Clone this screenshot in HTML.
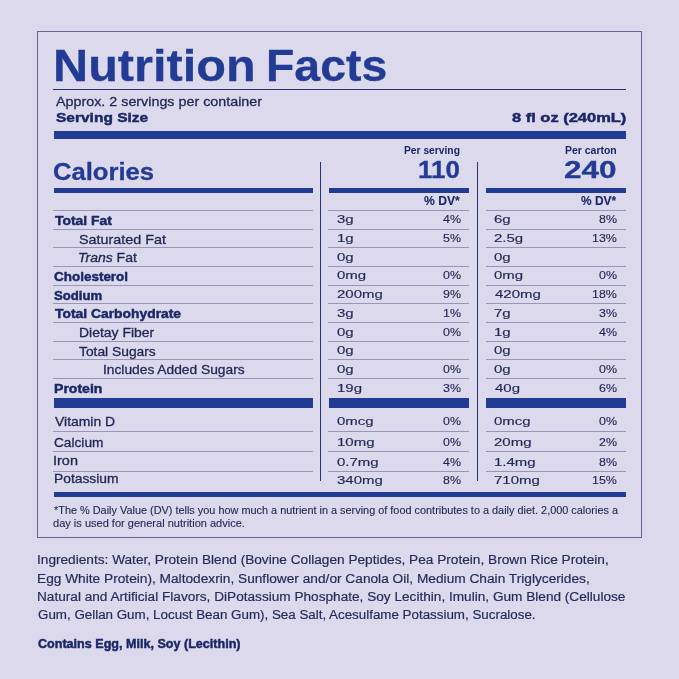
<!DOCTYPE html>
<html><head><meta charset="utf-8"><title>Nutrition Facts</title>
<style>
html,body{margin:0;padding:0}
body{width:679px;height:679px;background:#dcd9ec;position:relative;overflow:hidden;font-family:"Liberation Sans",sans-serif}
.t{position:absolute;white-space:pre;line-height:1;transform-origin:0 0;font-family:"Liberation Sans",sans-serif;-webkit-text-stroke:0.3px currentColor}
.b{-webkit-text-stroke-width:0.45px}
.r{position:absolute;box-sizing:content-box}
</style></head><body>
<div id="w" style="position:absolute;left:0;top:0;width:679px;height:679px;will-change:transform">
<div class="r" style="left:37px;top:31px;width:603px;height:505px;border:1px solid #646890"></div>
<div class="r" style="left:53.00px;top:89.00px;width:573.00px;height:1.00px;background:#2b3068"></div>
<div class="r" style="left:53.80px;top:131.00px;width:572.20px;height:8.00px;background:#223b94"></div>
<div class="r" style="left:53.80px;top:188.30px;width:259.20px;height:4.50px;background:#223b94"></div>
<div class="r" style="left:328.50px;top:188.30px;width:140.50px;height:4.50px;background:#223b94"></div>
<div class="r" style="left:486.00px;top:188.30px;width:140.00px;height:4.50px;background:#223b94"></div>
<div class="r" style="left:320.00px;top:162.00px;width:1.00px;height:318.50px;background:#2b3270"></div>
<div class="r" style="left:476.80px;top:162.00px;width:1.00px;height:318.50px;background:#2b3270"></div>
<div class="r" style="left:53.00px;top:210.00px;width:260.00px;height:1.00px;background:#9895b8"></div>
<div class="r" style="left:328.00px;top:210.00px;width:141.00px;height:1.00px;background:#9895b8"></div>
<div class="r" style="left:485.50px;top:210.00px;width:140.50px;height:1.00px;background:#9895b8"></div>
<div class="r" style="left:53.00px;top:228.65px;width:260.00px;height:1.00px;background:#9895b8"></div>
<div class="r" style="left:328.00px;top:228.65px;width:141.00px;height:1.00px;background:#9895b8"></div>
<div class="r" style="left:485.50px;top:228.65px;width:140.50px;height:1.00px;background:#9895b8"></div>
<div class="r" style="left:53.00px;top:247.30px;width:260.00px;height:1.00px;background:#9895b8"></div>
<div class="r" style="left:328.00px;top:247.30px;width:141.00px;height:1.00px;background:#9895b8"></div>
<div class="r" style="left:485.50px;top:247.30px;width:140.50px;height:1.00px;background:#9895b8"></div>
<div class="r" style="left:53.00px;top:265.95px;width:260.00px;height:1.00px;background:#9895b8"></div>
<div class="r" style="left:328.00px;top:265.95px;width:141.00px;height:1.00px;background:#9895b8"></div>
<div class="r" style="left:485.50px;top:265.95px;width:140.50px;height:1.00px;background:#9895b8"></div>
<div class="r" style="left:53.00px;top:284.60px;width:260.00px;height:1.00px;background:#9895b8"></div>
<div class="r" style="left:328.00px;top:284.60px;width:141.00px;height:1.00px;background:#9895b8"></div>
<div class="r" style="left:485.50px;top:284.60px;width:140.50px;height:1.00px;background:#9895b8"></div>
<div class="r" style="left:53.00px;top:303.25px;width:260.00px;height:1.00px;background:#9895b8"></div>
<div class="r" style="left:328.00px;top:303.25px;width:141.00px;height:1.00px;background:#9895b8"></div>
<div class="r" style="left:485.50px;top:303.25px;width:140.50px;height:1.00px;background:#9895b8"></div>
<div class="r" style="left:53.00px;top:321.90px;width:260.00px;height:1.00px;background:#9895b8"></div>
<div class="r" style="left:328.00px;top:321.90px;width:141.00px;height:1.00px;background:#9895b8"></div>
<div class="r" style="left:485.50px;top:321.90px;width:140.50px;height:1.00px;background:#9895b8"></div>
<div class="r" style="left:53.00px;top:340.55px;width:260.00px;height:1.00px;background:#9895b8"></div>
<div class="r" style="left:328.00px;top:340.55px;width:141.00px;height:1.00px;background:#9895b8"></div>
<div class="r" style="left:485.50px;top:340.55px;width:140.50px;height:1.00px;background:#9895b8"></div>
<div class="r" style="left:53.00px;top:359.20px;width:260.00px;height:1.00px;background:#9895b8"></div>
<div class="r" style="left:328.00px;top:359.20px;width:141.00px;height:1.00px;background:#9895b8"></div>
<div class="r" style="left:485.50px;top:359.20px;width:140.50px;height:1.00px;background:#9895b8"></div>
<div class="r" style="left:53.00px;top:377.85px;width:260.00px;height:1.00px;background:#9895b8"></div>
<div class="r" style="left:328.00px;top:377.85px;width:141.00px;height:1.00px;background:#9895b8"></div>
<div class="r" style="left:485.50px;top:377.85px;width:140.50px;height:1.00px;background:#9895b8"></div>
<div class="r" style="left:53.80px;top:398.20px;width:259.20px;height:9.80px;background:#223b94"></div>
<div class="r" style="left:328.50px;top:398.20px;width:140.50px;height:9.80px;background:#223b94"></div>
<div class="r" style="left:486.00px;top:398.20px;width:140.00px;height:9.80px;background:#223b94"></div>
<div class="r" style="left:53.00px;top:431.00px;width:260.00px;height:1.00px;background:#9895b8"></div>
<div class="r" style="left:328.00px;top:431.00px;width:141.00px;height:1.00px;background:#9895b8"></div>
<div class="r" style="left:485.50px;top:431.00px;width:140.50px;height:1.00px;background:#9895b8"></div>
<div class="r" style="left:53.00px;top:451.20px;width:260.00px;height:1.00px;background:#9895b8"></div>
<div class="r" style="left:328.00px;top:451.20px;width:141.00px;height:1.00px;background:#9895b8"></div>
<div class="r" style="left:485.50px;top:451.20px;width:140.50px;height:1.00px;background:#9895b8"></div>
<div class="r" style="left:53.00px;top:470.70px;width:260.00px;height:1.00px;background:#9895b8"></div>
<div class="r" style="left:328.00px;top:470.70px;width:141.00px;height:1.00px;background:#9895b8"></div>
<div class="r" style="left:485.50px;top:470.70px;width:140.50px;height:1.00px;background:#9895b8"></div>
<div class="r" style="left:53.80px;top:492.30px;width:572.20px;height:4.30px;background:#223b94"></div>
<span class="t" style="left:52.67px;top:44px;font-size:43.8px;font-weight:700;color:#223b94;transform:scaleX(1.1106)">Nutrition</span>
<span class="t" style="left:265.82px;top:44px;font-size:43.8px;font-weight:700;color:#223b94;transform:scaleX(1.0594)">Facts</span>
<span class="t" style="left:56.30px;top:95px;font-size:13.4px;font-weight:400;color:#1f2654;transform:scaleX(1.0686)">Approx. 2 servings per container</span>
<span class="t b" style="left:55.93px;top:111px;font-size:13.5px;font-weight:700;color:#1a2767;transform:scaleX(1.1483)">Serving Size</span>
<span class="t b" style="left:512.39px;top:111px;font-size:13.5px;font-weight:700;color:#1a2767;transform:scaleX(1.2195)">8 fl oz (240mL)</span>
<span class="t" style="left:52.75px;top:160px;font-size:24.4px;font-weight:700;color:#223b94;transform:scaleX(1.0504)">Calories</span>
<span class="t" style="-webkit-text-stroke-width:0px;left:404.44px;top:146px;font-size:10.2px;font-weight:700;color:#1a2767;transform:scaleX(1.0074)">Per serving</span>
<span class="t" style="-webkit-text-stroke-width:0px;left:565.23px;top:146px;font-size:10.2px;font-weight:700;color:#1a2767;transform:scaleX(1.0265)">Per carton</span>
<span class="t" style="left:418.13px;top:159px;font-size:23.3px;font-weight:700;color:#223b94;transform:scaleX(1.1121)">110</span>
<span class="t" style="left:564.39px;top:159px;font-size:23.3px;font-weight:700;color:#223b94;transform:scaleX(1.3530)">240</span>
<span class="t" style="-webkit-text-stroke-width:0.1px;left:423.76px;top:195px;font-size:12.5px;font-weight:700;color:#1a2767;transform:scaleX(0.9699)">% DV*</span>
<span class="t" style="-webkit-text-stroke-width:0.1px;left:580.56px;top:195px;font-size:12.5px;font-weight:700;color:#1a2767;transform:scaleX(0.9534)">% DV*</span>
<span class="t b" style="left:54.63px;top:215px;font-size:12.8px;font-weight:700;color:#1a2767;transform:scaleX(1.0846)">Total Fat</span>
<span class="t" style="-webkit-text-stroke-width:0.15px;left:337.34px;top:214px;font-size:11.4px;font-weight:400;color:#1f2654;transform:scaleX(1.3150)">3g</span>
<span class="t" style="-webkit-text-stroke-width:0.15px;left:442.86px;top:214px;font-size:11.4px;font-weight:400;color:#1f2654;transform:scaleX(1.0900)">4%</span>
<span class="t" style="-webkit-text-stroke-width:0.15px;left:494.34px;top:214px;font-size:11.4px;font-weight:400;color:#1f2654;transform:scaleX(1.3150)">6g</span>
<span class="t" style="-webkit-text-stroke-width:0.15px;left:599.16px;top:214px;font-size:11.4px;font-weight:400;color:#1f2654;transform:scaleX(1.0900)">8%</span>
<span class="t" style="left:78.76px;top:234px;font-size:12.8px;font-weight:400;color:#1f2654;transform:scaleX(1.1218)">Saturated Fat</span>
<span class="t" style="-webkit-text-stroke-width:0.15px;left:337.01px;top:233px;font-size:11.4px;font-weight:400;color:#1f2654;transform:scaleX(1.3150)">1g</span>
<span class="t" style="-webkit-text-stroke-width:0.15px;left:442.86px;top:233px;font-size:11.4px;font-weight:400;color:#1f2654;transform:scaleX(1.0900)">5%</span>
<span class="t" style="-webkit-text-stroke-width:0.15px;left:494.34px;top:233px;font-size:11.4px;font-weight:400;color:#1f2654;transform:scaleX(1.3150)">2.5g</span>
<span class="t" style="-webkit-text-stroke-width:0.15px;left:592.08px;top:233px;font-size:11.4px;font-weight:400;color:#1f2654;transform:scaleX(1.0900)">13%</span>
<span class="t" style="left:78.23px;top:252px;font-size:12.8px;font-weight:400;color:#1f2654;transform:scaleX(1.0933)"><i>Trans</i> Fat</span>
<span class="t" style="-webkit-text-stroke-width:0.15px;left:337.34px;top:252px;font-size:11.4px;font-weight:400;color:#1f2654;transform:scaleX(1.3150)">0g</span>
<span class="t" style="-webkit-text-stroke-width:0.15px;left:494.34px;top:252px;font-size:11.4px;font-weight:400;color:#1f2654;transform:scaleX(1.3150)">0g</span>
<span class="t b" style="left:54.37px;top:271px;font-size:12.8px;font-weight:700;color:#1a2767;transform:scaleX(1.0522)">Cholesterol</span>
<span class="t" style="-webkit-text-stroke-width:0.15px;left:337.34px;top:270px;font-size:11.4px;font-weight:400;color:#1f2654;transform:scaleX(1.3150)">0mg</span>
<span class="t" style="-webkit-text-stroke-width:0.15px;left:442.86px;top:270px;font-size:11.4px;font-weight:400;color:#1f2654;transform:scaleX(1.0900)">0%</span>
<span class="t" style="-webkit-text-stroke-width:0.15px;left:494.34px;top:270px;font-size:11.4px;font-weight:400;color:#1f2654;transform:scaleX(1.3150)">0mg</span>
<span class="t" style="-webkit-text-stroke-width:0.15px;left:599.16px;top:270px;font-size:11.4px;font-weight:400;color:#1f2654;transform:scaleX(1.0900)">0%</span>
<span class="t b" style="left:54.39px;top:290px;font-size:12.8px;font-weight:700;color:#1a2767;transform:scaleX(1.0251)">Sodium</span>
<span class="t" style="-webkit-text-stroke-width:0.15px;left:337.34px;top:289px;font-size:11.4px;font-weight:400;color:#1f2654;transform:scaleX(1.3150)">200mg</span>
<span class="t" style="-webkit-text-stroke-width:0.15px;left:442.86px;top:289px;font-size:11.4px;font-weight:400;color:#1f2654;transform:scaleX(1.0900)">9%</span>
<span class="t" style="-webkit-text-stroke-width:0.15px;left:494.67px;top:289px;font-size:11.4px;font-weight:400;color:#1f2654;transform:scaleX(1.3150)">420mg</span>
<span class="t" style="-webkit-text-stroke-width:0.15px;left:592.08px;top:289px;font-size:11.4px;font-weight:400;color:#1f2654;transform:scaleX(1.0900)">18%</span>
<span class="t b" style="left:54.63px;top:308px;font-size:12.8px;font-weight:700;color:#1a2767;transform:scaleX(1.0834)">Total Carbohydrate</span>
<span class="t" style="-webkit-text-stroke-width:0.15px;left:337.34px;top:308px;font-size:11.4px;font-weight:400;color:#1f2654;transform:scaleX(1.3150)">3g</span>
<span class="t" style="-webkit-text-stroke-width:0.15px;left:442.86px;top:308px;font-size:11.4px;font-weight:400;color:#1f2654;transform:scaleX(1.0900)">1%</span>
<span class="t" style="-webkit-text-stroke-width:0.15px;left:494.34px;top:308px;font-size:11.4px;font-weight:400;color:#1f2654;transform:scaleX(1.3150)">7g</span>
<span class="t" style="-webkit-text-stroke-width:0.15px;left:599.16px;top:308px;font-size:11.4px;font-weight:400;color:#1f2654;transform:scaleX(1.0900)">3%</span>
<span class="t" style="left:78.51px;top:327px;font-size:12.8px;font-weight:400;color:#1f2654;transform:scaleX(1.0893)">Dietay Fiber</span>
<span class="t" style="-webkit-text-stroke-width:0.15px;left:337.34px;top:327px;font-size:11.4px;font-weight:400;color:#1f2654;transform:scaleX(1.3150)">0g</span>
<span class="t" style="-webkit-text-stroke-width:0.15px;left:442.86px;top:327px;font-size:11.4px;font-weight:400;color:#1f2654;transform:scaleX(1.0900)">0%</span>
<span class="t" style="-webkit-text-stroke-width:0.15px;left:494.01px;top:327px;font-size:11.4px;font-weight:400;color:#1f2654;transform:scaleX(1.3150)">1g</span>
<span class="t" style="-webkit-text-stroke-width:0.15px;left:599.16px;top:327px;font-size:11.4px;font-weight:400;color:#1f2654;transform:scaleX(1.0900)">4%</span>
<span class="t" style="left:79.33px;top:346px;font-size:12.8px;font-weight:400;color:#1f2654;transform:scaleX(1.0794)">Total Sugars</span>
<span class="t" style="-webkit-text-stroke-width:0.15px;left:337.34px;top:345px;font-size:11.4px;font-weight:400;color:#1f2654;transform:scaleX(1.3150)">0g</span>
<span class="t" style="-webkit-text-stroke-width:0.15px;left:494.34px;top:345px;font-size:11.4px;font-weight:400;color:#1f2654;transform:scaleX(1.3150)">0g</span>
<span class="t" style="left:102.85px;top:364px;font-size:12.8px;font-weight:400;color:#1f2654;transform:scaleX(1.0762)">Includes Added Sugars</span>
<span class="t" style="-webkit-text-stroke-width:0.15px;left:337.34px;top:364px;font-size:11.4px;font-weight:400;color:#1f2654;transform:scaleX(1.3150)">0g</span>
<span class="t" style="-webkit-text-stroke-width:0.15px;left:442.86px;top:364px;font-size:11.4px;font-weight:400;color:#1f2654;transform:scaleX(1.0900)">0%</span>
<span class="t" style="-webkit-text-stroke-width:0.15px;left:494.34px;top:364px;font-size:11.4px;font-weight:400;color:#1f2654;transform:scaleX(1.3150)">0g</span>
<span class="t" style="-webkit-text-stroke-width:0.15px;left:599.16px;top:364px;font-size:11.4px;font-weight:400;color:#1f2654;transform:scaleX(1.0900)">0%</span>
<span class="t b" style="left:54.08px;top:383px;font-size:12.8px;font-weight:700;color:#1a2767;transform:scaleX(1.0988)">Protein</span>
<span class="t" style="-webkit-text-stroke-width:0.15px;left:337.01px;top:383px;font-size:11.4px;font-weight:400;color:#1f2654;transform:scaleX(1.3150)">19g</span>
<span class="t" style="-webkit-text-stroke-width:0.15px;left:442.86px;top:383px;font-size:11.4px;font-weight:400;color:#1f2654;transform:scaleX(1.0900)">3%</span>
<span class="t" style="-webkit-text-stroke-width:0.15px;left:494.67px;top:383px;font-size:11.4px;font-weight:400;color:#1f2654;transform:scaleX(1.3150)">40g</span>
<span class="t" style="-webkit-text-stroke-width:0.15px;left:599.16px;top:383px;font-size:11.4px;font-weight:400;color:#1f2654;transform:scaleX(1.0900)">6%</span>
<span class="t" style="left:54.60px;top:416px;font-size:12.8px;font-weight:400;color:#1f2654;transform:scaleX(1.0886)">Vitamin D</span>
<span class="t" style="-webkit-text-stroke-width:0.15px;left:337.34px;top:416px;font-size:11.4px;font-weight:400;color:#1f2654;transform:scaleX(1.3150)">0mcg</span>
<span class="t" style="-webkit-text-stroke-width:0.15px;left:442.86px;top:416px;font-size:11.4px;font-weight:400;color:#1f2654;transform:scaleX(1.0900)">0%</span>
<span class="t" style="-webkit-text-stroke-width:0.15px;left:494.34px;top:416px;font-size:11.4px;font-weight:400;color:#1f2654;transform:scaleX(1.3150)">0mcg</span>
<span class="t" style="-webkit-text-stroke-width:0.15px;left:599.16px;top:416px;font-size:11.4px;font-weight:400;color:#1f2654;transform:scaleX(1.0900)">0%</span>
<span class="t" style="left:53.80px;top:437px;font-size:12.8px;font-weight:400;color:#1f2654;transform:scaleX(1.0682)">Calcium</span>
<span class="t" style="-webkit-text-stroke-width:0.15px;left:337.01px;top:437px;font-size:11.4px;font-weight:400;color:#1f2654;transform:scaleX(1.3150)">10mg</span>
<span class="t" style="-webkit-text-stroke-width:0.15px;left:442.86px;top:437px;font-size:11.4px;font-weight:400;color:#1f2654;transform:scaleX(1.0900)">0%</span>
<span class="t" style="-webkit-text-stroke-width:0.15px;left:494.34px;top:437px;font-size:11.4px;font-weight:400;color:#1f2654;transform:scaleX(1.3150)">20mg</span>
<span class="t" style="-webkit-text-stroke-width:0.15px;left:599.16px;top:437px;font-size:11.4px;font-weight:400;color:#1f2654;transform:scaleX(1.0900)">2%</span>
<span class="t" style="left:53.19px;top:455px;font-size:12.8px;font-weight:400;color:#1f2654;transform:scaleX(1.1300)">Iron</span>
<span class="t" style="-webkit-text-stroke-width:0.15px;left:337.34px;top:457px;font-size:11.4px;font-weight:400;color:#1f2654;transform:scaleX(1.3150)">0.7mg</span>
<span class="t" style="-webkit-text-stroke-width:0.15px;left:442.86px;top:457px;font-size:11.4px;font-weight:400;color:#1f2654;transform:scaleX(1.0900)">4%</span>
<span class="t" style="-webkit-text-stroke-width:0.15px;left:494.01px;top:457px;font-size:11.4px;font-weight:400;color:#1f2654;transform:scaleX(1.3150)">1.4mg</span>
<span class="t" style="-webkit-text-stroke-width:0.15px;left:599.16px;top:457px;font-size:11.4px;font-weight:400;color:#1f2654;transform:scaleX(1.0900)">8%</span>
<span class="t" style="left:53.52px;top:473px;font-size:12.8px;font-weight:400;color:#1f2654;transform:scaleX(1.0810)">Potassium</span>
<span class="t" style="-webkit-text-stroke-width:0.15px;left:337.34px;top:475px;font-size:11.4px;font-weight:400;color:#1f2654;transform:scaleX(1.3150)">340mg</span>
<span class="t" style="-webkit-text-stroke-width:0.15px;left:442.86px;top:475px;font-size:11.4px;font-weight:400;color:#1f2654;transform:scaleX(1.0900)">8%</span>
<span class="t" style="-webkit-text-stroke-width:0.15px;left:494.34px;top:475px;font-size:11.4px;font-weight:400;color:#1f2654;transform:scaleX(1.3150)">710mg</span>
<span class="t" style="-webkit-text-stroke-width:0.15px;left:592.08px;top:475px;font-size:11.4px;font-weight:400;color:#1f2654;transform:scaleX(1.0900)">15%</span>
<span class="t" style="-webkit-text-stroke-width:0.12px;left:53.74px;top:506px;font-size:10.4px;font-weight:400;color:#1f2654;transform:scaleX(1.0481)">*The % Daily Value (DV) tells you how much a nutrient in a serving of food contributes to a daily diet. 2,000 calories a</span>
<span class="t" style="-webkit-text-stroke-width:0.12px;left:53.47px;top:519px;font-size:10.4px;font-weight:400;color:#1f2654;transform:scaleX(1.0616)">day is used for general nutrition advice.</span>
<span class="t" style="-webkit-text-stroke-width:0.18px;left:37.11px;top:554px;font-size:12.3px;font-weight:400;color:#242b5a;transform:scaleX(1.1102)">Ingredients: Water, Protein Blend (Bovine Collagen Peptides, Pea Protein, Brown Rice Protein,</span>
<span class="t" style="-webkit-text-stroke-width:0.18px;left:37.39px;top:573px;font-size:12.3px;font-weight:400;color:#242b5a;transform:scaleX(1.1140)">Egg White Protein), Maltodexrin, Sunflower and/or Canola Oil, Medium Chain Triglycerides,</span>
<span class="t" style="-webkit-text-stroke-width:0.18px;left:37.39px;top:591px;font-size:12.3px;font-weight:400;color:#242b5a;transform:scaleX(1.1080)">Natural and Artificial Flavors, DiPotassium Phosphate, Soy Lecithin, Imulin, Gum Blend (Cellulose</span>
<span class="t" style="-webkit-text-stroke-width:0.18px;left:37.76px;top:609px;font-size:12.3px;font-weight:400;color:#242b5a;transform:scaleX(1.0865)">Gum, Gellan Gum, Locust Bean Gum), Sea Salt, Acesulfame Potassium, Sucralose.</span>
<span class="t b" style="left:37.79px;top:638px;font-size:12.3px;font-weight:700;color:#1a2767;transform:scaleX(1.0223)">Contains Egg, Milk, Soy (Lecithin)</span>
</div>
</body></html>
